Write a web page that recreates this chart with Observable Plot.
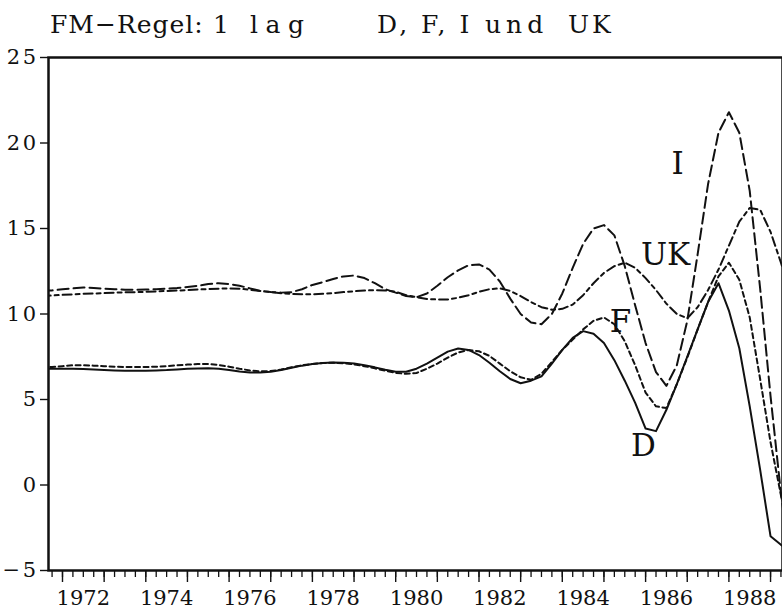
<!DOCTYPE html>
<html><head><meta charset="utf-8">
<script src="https://cdn.jsdelivr.net/npm/d3@7"></script>
<script src="https://cdn.jsdelivr.net/npm/@observablehq/plot@0.6"></script>
<style>
body{margin:0;background:#fff;}
#wrap{position:relative;width:782px;height:609px;font-family:"DejaVu Serif",serif;color:#111;}
#wrap svg{position:absolute;left:0;top:0;}
.t{position:absolute;top:12px;font-size:25px;line-height:25px;white-space:pre;z-index:2;}
#wrap svg [aria-label="y-axis tick label"] text{letter-spacing:2.5px;}
</style></head>
<body>
<div id="wrap">
  <span class="t" style="left:50px;letter-spacing:1px">FM−Regel:</span>
  <span class="t" style="left:213px">1</span>
  <span class="t" style="left:250px;letter-spacing:7.5px">lag</span>
  <span class="t" style="left:377px;letter-spacing:3px">D, F, I</span>
  <span class="t" style="left:485px;letter-spacing:5px">und</span>
  <span class="t" style="left:568px;letter-spacing:3px">UK</span>
</div>
<script>
// Quarterly observations, first one at 1971 Q3 (1971.5)
const startYear = 1971.5;
const D = [6.8, 6.8,
  6.8, 6.8, 6.78, 6.75,
  6.72, 6.7, 6.68, 6.68,
  6.68, 6.7, 6.72, 6.76,
  6.8, 6.82, 6.83, 6.8,
  6.72, 6.64, 6.58, 6.58,
  6.62, 6.72, 6.86, 6.98,
  7.08, 7.14, 7.16, 7.15,
  7.1, 7.0, 6.88, 6.74,
  6.62, 6.62, 6.8, 7.1,
  7.45, 7.8, 7.98, 7.9,
  7.6, 7.15, 6.65, 6.2,
  5.95, 6.1, 6.35, 7.1,
  7.9, 8.6, 9.0, 8.85,
  8.3, 7.3, 6.1, 4.8,
  3.3, 3.15, 4.4, 5.9,
  7.5, 9.1, 10.7, 11.8,
  10.2, 8.0, 4.6, 0.9,
  -3.0, -3.5, -3.9];
const F = [6.88, 6.9,
  6.95, 7.0, 7.0, 6.98,
  6.95, 6.92, 6.9, 6.9,
  6.9, 6.92, 6.95, 7.0,
  7.04, 7.08, 7.08, 7.02,
  6.92, 6.8, 6.7, 6.65,
  6.66, 6.75, 6.88, 7.0,
  7.08, 7.13, 7.15, 7.12,
  7.05, 6.95, 6.82, 6.68,
  6.56, 6.5, 6.55, 6.8,
  7.1, 7.45, 7.75, 7.9,
  7.82, 7.55, 7.1, 6.65,
  6.3, 6.15, 6.5, 7.2,
  7.9, 8.5, 9.1, 9.6,
  9.8, 9.4, 8.4, 7.0,
  5.4, 4.6, 4.5, 5.9,
  7.45, 9.1, 10.7, 12.2,
  13.0, 12.0, 9.8, 6.2,
  2.5, -0.6, -3.0];
const I = [11.35, 11.38,
  11.45, 11.5, 11.55, 11.52,
  11.48, 11.45, 11.42, 11.42,
  11.43, 11.45, 11.48, 11.52,
  11.58, 11.65, 11.75, 11.8,
  11.75, 11.65, 11.5, 11.35,
  11.28, 11.25, 11.28, 11.45,
  11.7, 11.86, 12.05, 12.2,
  12.25, 12.1, 11.8, 11.45,
  11.25, 11.05, 10.98, 11.2,
  11.65, 12.15, 12.55, 12.85,
  12.9, 12.6, 11.9, 10.9,
  10.0, 9.5, 9.4, 10.0,
  11.2, 12.7, 14.1, 15.0,
  15.2, 14.6, 12.8, 10.5,
  8.3, 6.6, 5.8, 7.0,
  9.6, 13.5, 17.6, 20.6,
  21.8, 20.6, 17.2, 11.5,
  5.2, -0.5, -5.0];
const UK = [11.05, 11.08,
  11.12, 11.15, 11.18, 11.2,
  11.22, 11.25, 11.27, 11.28,
  11.3, 11.32, 11.35, 11.37,
  11.4, 11.43, 11.46, 11.48,
  11.5, 11.48, 11.42, 11.35,
  11.28, 11.22, 11.18, 11.15,
  11.15, 11.18, 11.22, 11.28,
  11.33, 11.37, 11.4, 11.38,
  11.3, 11.1, 10.98, 10.88,
  10.85, 10.85, 10.95, 11.1,
  11.3, 11.45, 11.5, 11.35,
  11.05, 10.7, 10.4, 10.25,
  10.3, 10.55, 11.1, 11.8,
  12.4, 12.8, 13.0, 12.7,
  12.1, 11.4, 10.6, 10.0,
  9.75, 10.4, 11.4, 12.6,
  14.0, 15.4, 16.2, 16.1,
  14.8, 13.0, 11.0];

const seriesNames = ["D", "F", "I", "UK"];
const seriesValues = [D, F, I, UK];
const seriesDash = ["none", "5,3.5", "11,5", "9,4,4,4"];

// in-chart series labels (data units)
const labelNames = ["D", "F", "UK", "I"];
const labelT = [1985.95, 1985.40, 1986.48, 1986.77];
const labelV = [2.25, 9.52, 13.42, 18.77];

const yTicks = [-5, 0, 5, 10, 15, 20, 25];
const yearTicks = d3.range(1972, 1990);
const quarterTicks = d3.range(1971.75, 1989.3, 0.25);
const labelYears = [1972, 1974, 1976, 1978, 1980, 1982, 1984, 1986, 1988];

const quarters = D.map((_, i) => startYear + i * 0.25);
const rows = seriesNames.map((name, s) =>
  seriesValues[s].map((v, i) => ({t: quarters[i], v, name})));
const labels = labelNames.map((name, i) => ({name, t: labelT[i], v: labelV[i]}));

const chart = Plot.plot({
  width: 782, height: 609,
  marginLeft: 48, marginRight: 0, marginTop: 57, marginBottom: 39,
  style: {fontFamily: '"DejaVu Serif", serif', fontSize: "21px", background: "transparent", color: "#111"},
  x: {domain: [1971.664, 1989.287]},
  y: {domain: [-5, 25]},
  marks: [
    Plot.axisY(yTicks, {tickSize: 8, tickPadding: 2, strokeWidth: 1.4, fontSize: 21, label: null}),
    Plot.axisX(quarterTicks, {tickSize: 7, tickFormat: () => "", strokeWidth: 1.3, label: null}),
    Plot.axisX(yearTicks, {tickSize: 12, tickFormat: () => "", strokeWidth: 1.4, label: null}),
    Plot.axisX(labelYears.map(y => y + 0.5), {tickSize: 0, tickPadding: 20, fontSize: 21, tickFormat: d => String(Math.floor(d)), label: null}),
    ...rows.map((r, s) => Plot.line(r, {x: "t", y: "v", stroke: "#111", strokeWidth: 2, strokeDasharray: seriesDash[s], clip: true})),
    Plot.text(labels, {x: "t", y: "v", text: "name", fontSize: 31, textAnchor: "middle", lineAnchor: "middle", fill: "#111"}),
    Plot.frame({strokeWidth: 2.5, stroke: "#111"})
  ]
});
document.getElementById("wrap").appendChild(chart);
</script>
</body></html>
